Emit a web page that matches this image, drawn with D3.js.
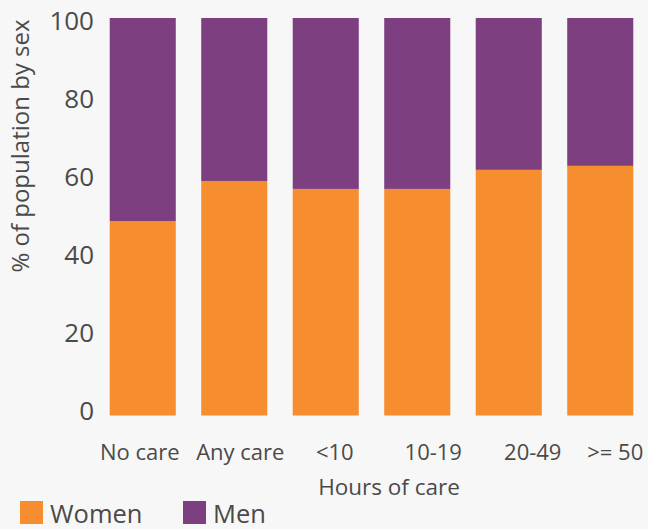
<!DOCTYPE html>
<html lang="en">
<head>
  <meta charset="utf-8">
  <title>Carers by sex</title>
  <script src="https://d3js.org/d3.v7.min.js"></script>
  <style>
    body { margin: 0; background: #f7f7f7; }
    svg { display: block; font-family: "Open Sans", sans-serif; }
    .tick text { fill: #4a4a4a; }
  </style>
</head>
<body>
<script>
  // share of population by sex, per hours of care
  var categories = ["No care", "Any care", "<10", "10-19", "20-49", ">= 50"];
  var women = [48.9, 59.0, 57.0, 57.0, 61.8, 62.8];
  var men = [51.1, 41.0, 43.0, 43.0, 38.2, 37.2];
  var yTicks = [0, 20, 40, 60, 80, 100];
  var seriesNames = ["Women", "Men"];
  var colours = ["#f68d2e", "#7e3f80"];
  // the x labels drift a little right of the bar centres in the original
  var labelNudge = [-3, 6, 9, 16, 24, 15];

  var w = 648, h = 529;

  var rows = categories.map(function (c, i) {
    return { cat: c, Women: women[i], Men: men[i] };
  });
  var stacked = d3.stack().keys(seriesNames)(rows);

  var xScale = d3.scaleBand().domain(categories)
    .range([97, 646]).paddingInner(0.278).paddingOuter(0.139);
  var yScale = d3.scaleLinear().domain([0, 100]).range([415.5, 18]);

  var svg = d3.select("body").append("svg")
    .attr("width", w).attr("height", h);

  svg.append("g")
    .selectAll("g")
    .data(stacked)
    .enter().append("g")
    .attr("fill", function (d, i) { return colours[i]; })
    .selectAll("rect")
    .data(function (d) { return d; })
    .enter().append("rect")
    .attr("x", function (d) { return xScale(d.data.cat); })
    .attr("y", function (d) { return yScale(d[1]); })
    .attr("height", function (d) { return yScale(d[0]) - yScale(d[1]); })
    .attr("width", xScale.bandwidth());

  // axes without lines
  var yAxis = svg.append("g")
    .attr("transform", "translate(94,0)")
    .call(d3.axisLeft(yScale).tickValues(yTicks).tickSize(0).tickPadding(0));
  yAxis.select(".domain").remove();
  yAxis.selectAll("text").attr("font-size", 26).attr("dy", "0.35em")
    .attr("y", function (d) { return -4.8 + d * 0.075; })
    .attr("font-family", "Open Sans, sans-serif");

  var xAxis = svg.append("g")
    .attr("transform", "translate(0,415)")
    .call(d3.axisBottom(xScale).tickSize(0).tickPadding(0));
  xAxis.select(".domain").remove();
  xAxis.selectAll("text").attr("font-size", 22).attr("dy", "2.05em")
    .attr("dx", function (d, i) { return labelNudge[i]; })
    .attr("font-family", "Open Sans, sans-serif");

  svg.append("text")
    .attr("text-anchor", "middle")
    .attr("transform", "translate(29,146)rotate(-90)")
    .attr("font-size", 24).attr("fill", "#4a4a4a")
    .text("% of population by sex");

  svg.append("text")
    .attr("text-anchor", "middle")
    .attr("x", 389).attr("y", 495)
    .attr("font-size", 22.5).attr("fill", "#4a4a4a")
    .text("Hours of care");

  // legend
  var legend = svg.append("g").selectAll("g")
    .data(seriesNames).enter().append("g")
    .attr("transform", function (d, i) { return "translate(" + (20 + i * 163) + ",501)"; });
  legend.append("rect").attr("width", 23).attr("height", 23)
    .attr("fill", function (d, i) { return colours[i]; });
  legend.append("text").attr("x", 30).attr("y", 22)
    .attr("font-size", 25.5).attr("fill", "#4a4a4a")
    .text(function (d) { return d; });
</script>
</body>
</html>
